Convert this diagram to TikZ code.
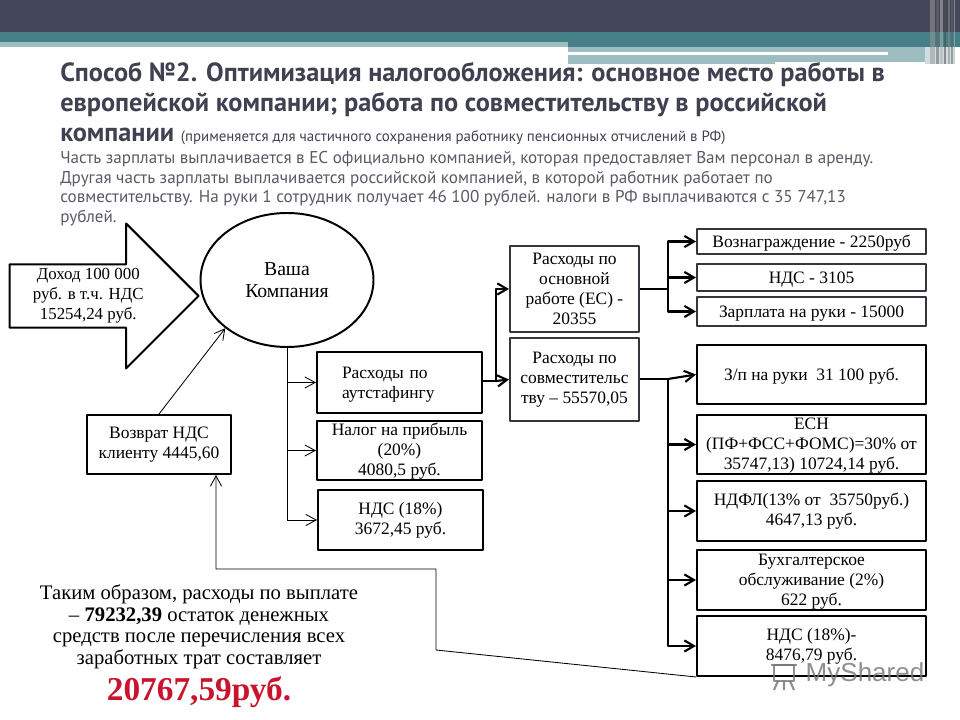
\documentclass[tikz,border=0pt]{standalone}
\usepackage{xcolor}
\usepackage{fontspec}
\usepackage{tikz}
\usetikzlibrary{arrows.meta, shapes.geometric, shapes.arrows}
\setmainfont{Liberation Serif}
\newfontfamily\headfont{PT Sans}
\newfontfamily\markfont{Liberation Sans}
\definecolor{HeaderColour}{HTML}{44465A}
\definecolor{TealColour}{HTML}{457F87}
\definecolor{TealColour_3}{HTML}{9DBDC1}
\definecolor{TextColour}{HTML}{3F4150}
\definecolor{TextColour_3}{HTML}{585A66}
\definecolor{BoxColour}{HTML}{35353F}
\definecolor{Accent2}{HTML}{C9142D}
\colorlet{Red}{Accent2}
\def\px{0.025cm}

\begin{document}
\begin{tikzpicture}[x = 0.025cm, y = -0.025cm, line join = round,
    boxsize/.style 2 args = {minimum width = #1*\px, minimum height = #2*\px},
    box/.style = {draw = black, line width = 1.4pt, inner sep = 0pt, align = center, fill = white, font = \fontsize{12.4}{14.2}\selectfont, execute at begin node = {\rule{0pt}{3.8mm}}},
    softbox/.style = {box, draw = BoxColour},
    lowtext/.style = {text height = 37pt, text depth = 1pt},
    thinline/.style = {draw = black, line width = 0.6pt},
    thickline/.style = {draw = black, line width = 1.5pt},
    thinarrow/.style = {thinline, -{Straight Barb[length = 2.6mm, width = 2.8mm]}},
    thickarrow/.style = {thickline, -{Straight Barb[length = 2.4mm, width = 2.8mm]}}
]
    \useasboundingbox (0, 0) rectangle (960, 720);

    % header bands
    \fill[HeaderColour] (0, 0) rectangle (960, 32);
    \fill[TealColour] (0, 32) rectangle (960, 42);
    \fill[TealColour_3] (0, 42) rectangle (568, 47);
    \fill[TealColour] (568, 42) rectangle (960, 47);
    \fill[TealColour_3] (568, 47) rectangle (925, 62);
    \fill[TealColour_3] (568, 62) rectangle (775, 64);
    \fill[TealColour_3!50] (925, 47) rectangle (955, 64);
    \fill[white] (568, 52) rectangle (888, 55);
    \foreach \stripex/\stripewidth/\stripeshade in {930/5/40, 936/3/60, 940/3/30, 944/2/70, 948/2/45, 951/2/60, 954/1/25}
        \fill[black!\stripeshade!white, opacity = 0.55] (\stripex, 0) rectangle ++(\stripewidth, 64);

    \node[anchor = north west, inner sep = 0pt, align = left, TextColour, font = \headfont\bfseries\fontsize{18.7}{21.3}\selectfont] (title) at (60, 62)
        {Способ №2. Оптимизация налогообложения: основное место работы в\\
         европейской компании; работа по совместительству в российской\\
         компании {\mdseries\fontsize{10.6}{10}\selectfont (применяется для частичного сохранения работнику пенсионных отчислений в РФ)}};
    \node[anchor = north west, inner sep = 0pt, align = left, TextColour_3, font = \headfont\fontsize{12.15}{14}\selectfont] (body) at (60, 151)
        {Часть зарплаты выплачивается в ЕС официально компанией, которая предоставляет Вам персонал в аренду.\\
         Другая часть зарплаты выплачивается российской компанией, в которой работник работает по\\
         совместительству. На руки 1 сотрудник получает 46 100 рублей. налоги в РФ выплачиваются с 35 747,13\\
         рублей.};

    \node[single arrow, draw = black, line width = 1.4pt, inner sep = 0pt, anchor = tip, align = center,
          minimum width = 145*\px, minimum height = 189*\px, single arrow head extend = 36.5*\px,
          font = \fontsize{12}{14.2}\selectfont, execute at begin node = {\rule{0pt}{5mm}}] (income) at (200, 296)
        {Доход 100 000\\руб. в т.ч. НДС\\15254,24 руб.};
    \node[ellipse, draw = black, line width = 1.4pt, inner sep = 0pt, align = center,
          minimum width = 173*\px, minimum height = 134*\px,
          font = \fontsize{14}{15.6}\selectfont, execute at begin node = {\rule{0pt}{4.4mm}}] (company) at (287, 280)
        {Ваша\\Компания};
    \node[box, boxsize = {144}{59}] (refund) at (159, 444.5) {Возврат НДС\\клиенту 4445,60};

    \node[box, boxsize = {165}{61}, align = left, text width = 165*\px] (outstaff) at (399.5, 382.5) {\hspace*{17.8pt}Расходы по\\\hspace*{17.8pt}аутстафингу};
    \node[box, boxsize = {165}{59}, lowtext] (profit) at (399.5, 450.5) {Налог на прибыль\\(20\%)\\4080,5 руб.};
    \node[box, boxsize = {165}{60}] (vat) at (400.5, 520) {НДС (18\%)\\3672,45 руб.};

    \node[softbox, boxsize = {129}{86}] (mainjob) at (574.5, 289) {Расходы по\\основной\\работе (ЕС) -\\20355};
    \node[softbox, boxsize = {129}{83}] (secondjob) at (574.5, 379.5) {Расходы по\\совместительс\\тву – 55570,05};

    \node[softbox, boxsize = {229}{25}] (reward) at (811.5, 241.5) {Вознаграждение - 2250руб};
    \node[softbox, boxsize = {229}{27}] (vatmain) at (811.5, 277.5) {НДС - 3105};
    \node[softbox, boxsize = {229}{29}] (salary) at (811.5, 311.5) {Зарплата на руки - 15000};

    \node[box, boxsize = {229}{59}] (hand) at (811.5, 374.5) {З/п на руки \ 31 100 руб.};
    \node[box, boxsize = {229}{59}, lowtext] (esn) at (811.5, 444.5) {ЕСН\\(ПФ+ФСС+ФОМС)=30\% от\\35747,13) 10724,14 руб.};
    \node[box, boxsize = {229}{60}] (ndfl) at (811.5, 511) {НДФЛ(13\% от \ 35750руб.)\\4647,13 руб.};
    \node[box, boxsize = {229}{60}, lowtext] (account) at (811.5, 580) {Бухгалтерское\\обслуживание (2\%)\\622 руб.};
    \node[box, boxsize = {229}{60}] (vatsecond) at (811.5, 646) {НДС (18\%)-\\8476,79 руб.};

    \node[anchor = north, inner sep = 0pt, align = center, font = \fontsize{14.7}{15.6}\selectfont] (summary) at (199, 584)
        {Таким образом, расходы по выплате\\
         – \textbf{79232,39} остаток денежных\\
         средств после перечисления всех\\
         заработных трат составляет\\[4pt]
         {\fontsize{23.7}{22}\selectfont\bfseries\color{Red} 20767,59руб.}};

    % connectors
    \draw[thinarrow] (refund.north) -- (company.218);
    \coordinate (trunk) at (287, 347);
    \draw[thinline] (trunk) -- (287, 520);
    \foreach \target in {outstaff, profit, vat}
        \draw[thinarrow] (trunk |- \target.west) -- (\target.west);

    \coordinate (outbus) at (496, 381);
    \draw[thickline] (outstaff.east |- outbus) -- (outbus);
    \draw[thickarrow] (outbus) |- (mainjob.west);
    \draw[thickarrow] (outbus) -- (secondjob.west);

    \coordinate (upperbus) at (668, 289);
    \draw[thickline] (mainjob.east) -- (upperbus);
    \foreach \target in {reward, vatmain, salary}
        \draw[thickarrow] (upperbus) |- (\target.west);

    \coordinate (lowerbus) at (668, 379);
    \draw[thickline] (secondjob.east |- lowerbus) -- (lowerbus);
    \draw[thickarrow] (lowerbus) -- (hand.west);
    \foreach \target in {esn, ndfl, account, vatsecond}
        \draw[thickarrow] (lowerbus) |- (\target.west);

    \coordinate (backlow) at (436, 650);
    \coordinate (backhigh) at (436, 569);
    \coordinate (backleft) at (216, 569);
    \draw[thinarrow] (vatsecond.south west) -- (backlow) -- (backhigh) -- (backleft) -- (backleft |- refund.south);

    % watermark
    \node[inner sep = 0pt, black!55, opacity = 0.8, font = \markfont\fontsize{18.5}{20}\selectfont] (mark) at (865, 675) {MyShared};
    \begin{scope}[draw = black!55, line width = 1.5pt, opacity = 0.8]
        \draw (771, 665) -- (797, 665);
        \draw (774, 665) rectangle (794, 681);
        \draw (778, 681) -- (774, 690) (790, 681) -- (794, 690) (784, 681) -- (784, 690);
    \end{scope}
\end{tikzpicture}
\end{document}
